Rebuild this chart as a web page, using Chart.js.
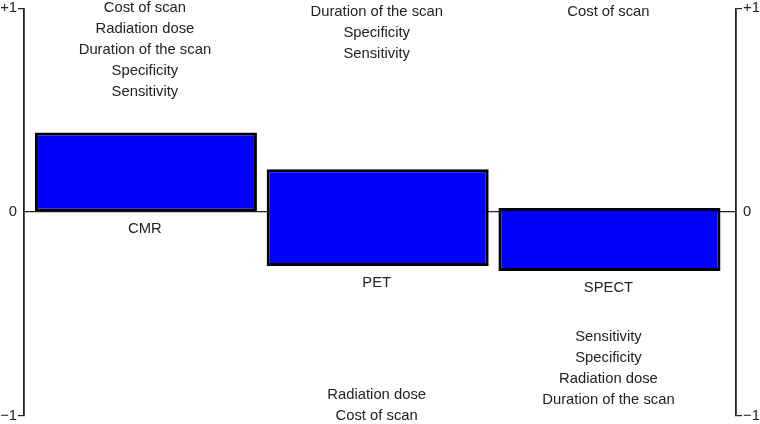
<!DOCTYPE html>
<html>
<head>
<meta charset="utf-8">
<script src="https://cdn.jsdelivr.net/npm/chart.js@4"></script>
<style>
    html, body { margin: 0; padding: 0; background: #fff; }
    #wrap { width: 760px; height: 424px; }
</style>
</head>
<body>
<div id="wrap"><canvas id="chart" width="760" height="424"></canvas></div>
<script>
// Modalities and their bar extents (score between -1 and +1)
const categories = ['CMR', 'PET', 'SPECT'];
const barLow = [0, -0.265, -0.29];
const barHigh = [0.39, 0.21, 0.02];

// Axis tick labels
const tickValues = [-1, 0, 1];
const tickLabels = ['\u22121', '0', '+1'];

// Attributes written above / below each bar
const aboveText = [
    ['Cost of scan', 'Radiation dose', 'Duration of the scan', 'Specificity', 'Sensitivity'],
    ['Duration of the scan', 'Specificity', 'Sensitivity'],
    ['Cost of scan']
];
const belowText = [
    [],
    ['Radiation dose', 'Cost of scan'],
    ['Sensitivity', 'Specificity', 'Radiation dose', 'Duration of the scan']
];

const FAMILY = '"Liberation Sans", Arial, sans-serif';
const FONT = '14.8px ' + FAMILY;
const INK = '#222';

function tickText(value) {
    const i = tickValues.indexOf(value);
    return i >= 0 ? tickLabels[i] : '';
}

// Draws the category names and attribute lists
const textPlugin = {
    id: 'texts',
    afterDatasetsDraw(chart) {
        const ctx = chart.ctx;
        const x = chart.scales.x;
        const y = chart.scales.y;
        const lineH = 20.8;
        ctx.save();
        ctx.font = FONT;
        ctx.fillStyle = INK;
        ctx.textAlign = 'center';
        ctx.textBaseline = 'middle';
        const topStart = [0, 4, 4];
        const bottomEnd = [0, 0, -16];
        categories.forEach((name, i) => {
            const cx = x.getPixelForValue(i) - 1;
            // name under the bar
            ctx.fillText(name, cx, y.getPixelForValue(barLow[i]) + 16.5);
            aboveText[i].forEach((t, k) => {
                ctx.fillText(t, cx, y.getPixelForValue(1) + topStart[i] + k * lineH);
            });
            const n = belowText[i].length;
            belowText[i].forEach((t, k) => {
                ctx.fillText(t, cx, y.getPixelForValue(-1) + bottomEnd[i] - (n - 1 - k) * lineH);
            });
        });
        ctx.restore();
    }
};

const axisTicks = {
    callback: v => tickText(v),
    color: INK,
    font: { family: FAMILY, size: 14.8, lineHeight: 1 },
    padding: 1
};

const ctx = document.getElementById('chart').getContext('2d');

new Chart(ctx, {
    type: 'bar',
    data: {
        datasets: [{
            data: categories.map((c, i) => ({ x: i, y: [barLow[i], barHigh[i]] })),
            backgroundColor: '#0000ff',
            borderColor: '#000',
            borderWidth: 3,
            borderSkipped: false,
            barPercentage: 0.958,
            categoryPercentage: 1
        }]
    },
    options: {
        responsive: false,
        animation: false,
        layout: {
            padding: { top: 0.6, bottom: 3.6, left: 0, right: 0 }
        },
        plugins: {
            legend: { display: false },
            tooltip: { enabled: false }
        },
        scales: {
            x: {
                type: 'linear',
                display: false,
                offset: false,
                min: -0.526,
                max: 2.546,
                afterBuildTicks: s => { s.ticks = categories.map((c, i) => ({ value: i })); }
            },
            y: {
                position: 'left',
                min: -1,
                max: 1,
                afterBuildTicks: s => { s.ticks = tickValues.map(v => ({ value: v })); },
                afterFit: s => { s.width = 24; },
                ticks: axisTicks,
                grid: {
                    color: c => (c.tick && c.tick.value === 0 ? INK : 'transparent'),
                    tickColor: c => (c.tick && c.tick.value === 0 ? 'transparent' : INK),
                    tickLength: 6,
                    lineWidth: 1.2
                },
                border: { color: INK, width: 1.8 }
            },
            y2: {
                position: 'right',
                min: -1,
                max: 1,
                afterBuildTicks: s => { s.ticks = tickValues.map(v => ({ value: v })); },
                afterFit: s => { s.width = 24; },
                ticks: axisTicks,
                grid: {
                    drawOnChartArea: false,
                    tickColor: c => (c.tick && c.tick.value === 0 ? 'transparent' : INK),
                    tickLength: 6,
                    lineWidth: 1.2
                },
                border: { color: INK, width: 1.8 }
            }
        }
    },
    plugins: [textPlugin]
});
</script>
</body>
</html>
